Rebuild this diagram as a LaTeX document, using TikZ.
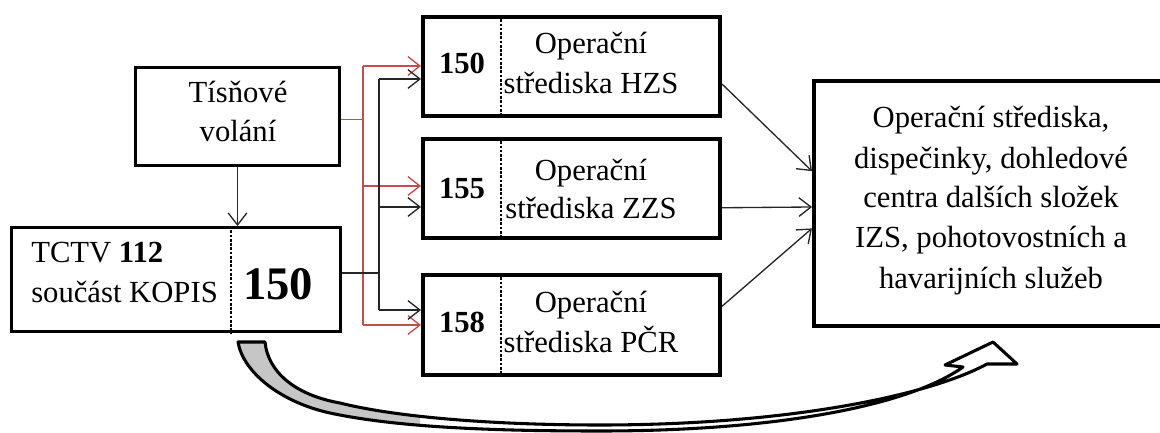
\documentclass[tikz,border=0pt]{standalone}
\usepackage{fontspec}
\setmainfont{Liberation Serif}
\usetikzlibrary{arrows.meta,calc}
\definecolor{wordred}{RGB}{192,80,77}
\begin{document}
\begin{tikzpicture}[x=0.75pt,y=-0.75pt,
  box/.style={draw,line width=2.2pt,rectangle,inner sep=0pt},
  thickbox/.style={draw,line width=3pt,rectangle,inner sep=0pt},
  txt/.style={font=\fontsize{23}{27}\selectfont,inner sep=0pt,anchor=base},
  txtw/.style={font=\fontsize{23}{27}\selectfont,inner sep=0pt,anchor=base west},
  num/.style={font=\fontsize{23}{27}\selectfont\bfseries,inner sep=0pt,anchor=base},
  bignum/.style={font=\fontsize{35}{40}\selectfont\bfseries,inner sep=0pt,anchor=base},
  conn/.style={line width=1pt,black!85},
  redconn/.style={line width=1pt,wordred},
  tip/.style={-{Straight Barb[length=9pt,width=14pt,line width=1pt]}},
  divider/.style={line width=0.8pt,dash pattern=on 2pt off 1.2pt}]
\useasboundingbox (0,0) rectangle (1160,432);

% boxes
\node[box,minimum width=153pt,minimum height=73.5pt] (tis) at (237.5,116.5) {};
\node[box,minimum width=246.75pt,minimum height=78pt] (tctv) at (176,279.5) {};
\node[thickbox,minimum width=222.75pt,minimum height=74.25pt] (hzs) at (571.5,66.5) {};
\node[thickbox,minimum width=222.75pt,minimum height=74.25pt] (zzs) at (571.5,188.5) {};
\node[thickbox,minimum width=222.75pt,minimum height=75pt] (pcr) at (571.5,325) {};
\node[thickbox,minimum width=267pt,minimum height=183.75pt] (big) at (992,203.5) {};

% dividers
\coordinate (dv1) at (231,0);
\coordinate (dv2) at (501,0);
\draw[divider] (dv1 |- tctv.north) -- (dv1 |- tctv.south);
\draw[divider] (dv2 |- hzs.north) -- (dv2 |- hzs.south);
\draw[divider] (dv2 |- zzs.north) -- (dv2 |- zzs.south);
\draw[divider] (dv2 |- pcr.north) -- (dv2 |- pcr.south);

% texts
\node[txt] (t1) at (238,102) {Tísňové};
\node[txt] (t2) at (238,141) {volání};
\node[txtw] (c1) at (31,262) {TCTV \textbf{112}};
\node[txtw] (c2) at (31,302) {součást KOPIS};
\node[bignum] (c3) at (278,299) {150};
\node[num] (h0) at (462,73) {150};
\node[txt] (h1) at (591,53) {Operační};
\node[txt] (h2) at (591,93) {střediska HZS};
\node[num] (z0) at (462,198) {155};
\node[txt] (z1) at (591,180) {Operační};
\node[txt] (z2) at (591,218) {střediska ZZS};
\node[num] (p0) at (462,332) {158};
\node[txt] (p1) at (591,312) {Operační};
\node[txt] (p2) at (591,352) {střediska PČR};
\node[txt] (b1) at (991,127) {Operační střediska,};
\node[txt] (b2) at (991,168) {dispečinky, dohledové};
\node[txt] (b3) at (991,207) {centra dalších složek};
\node[txt] (b4) at (991,247) {IZS, pohotovostních a};
\node[txt] (b5) at (991,288) {havarijních služeb};

% tis -> tctv
\draw[conn,tip] (tis.south) -- (tis.south |- tctv.north);

% red connectors
\coordinate (tisR) at ($(tis.north east)!0.53!(tis.south east)$);
\coordinate (rtop) at (363,66);
\coordinate (rmid) at (363,186);
\coordinate (rbot) at (363,325);
\draw[redconn] (tisR) -- (tisR -| rtop);
\draw[redconn] (rtop) -- (rbot);
\draw[redconn,tip] (rtop) -- (rtop -| hzs.west);
\draw[redconn,tip] (rmid) -- (rmid -| zzs.west);
\draw[redconn,tip] (rbot) -- (rbot -| pcr.west);

% black connectors
\coordinate (ctR) at ($(tctv.north east)!0.44!(tctv.south east)$);
\coordinate (btop) at (379,79);
\coordinate (bmid) at (379,207);
\coordinate (bbot) at (379,310);
\draw[conn] (ctR) -- (ctR -| btop);
\draw[conn] (btop) -- (bbot);
\draw[conn,tip] (btop) -- (btop -| hzs.west);
\draw[conn,tip] (bmid) -- (bmid -| zzs.west);
\draw[conn,tip] (bbot) -- (bbot -| pcr.west);

% to big box
\draw[conn,tip] ($(hzs.north east)!0.67!(hzs.south east)$) -- ($(big.north west)!0.37!(big.south west)$);
\draw[conn,tip] ($(zzs.north east)!0.687!(zzs.south east)$) -- ($(big.north west)!0.514!(big.south west)$);
\draw[conn,tip] ($(pcr.north east)!0.32!(pcr.south east)$) -- ($(big.north west)!0.6!(big.south west)$);

% curved block arrow
\def\bandpath{(238,342) .. controls (243,372) and (280,402) .. (330,413)
  .. controls (400,428) and (500,431) .. (600,431)
  .. controls (780,431) and (910,405) .. (963,367) -- (945,365) -- (993,342)
  -- (1017,364) -- (987,364) .. controls (930,395) and (790,425) .. (600,425)
  .. controls (500,425) and (400,418) .. (340,403)
  .. controls (295,395) and (268,372) .. (265,342) -- cycle}
\fill[white] \bandpath;
\begin{scope}
\clip (0,330) rectangle (420,432);
\fill[gray!45] \bandpath;
\end{scope}
\draw[line width=2.3pt,line join=round] \bandpath;
\end{tikzpicture}
\end{document}
